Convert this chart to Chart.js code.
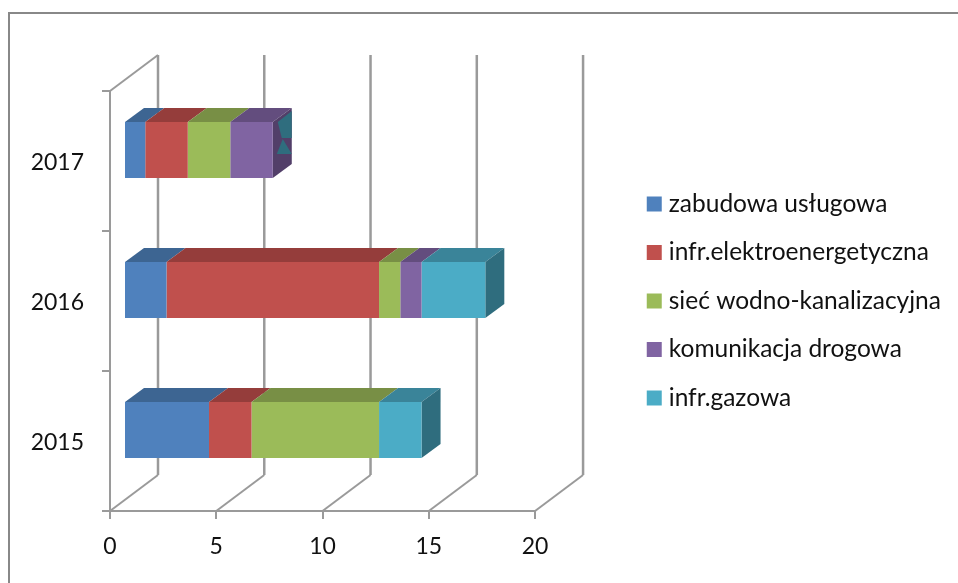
<!DOCTYPE html>
<html>
<head>
<meta charset="utf-8">
<title>Wykres</title>
<script src="https://cdn.jsdelivr.net/npm/chart.js@4/dist/chart.umd.min.js"></script>
<style>
  html, body { margin: 0; padding: 0; background: #fff; overflow: hidden; }
  #frame { position: absolute; left: 8px; top: 12px; border-left: 2px solid #888; border-top: 2px solid #888; }
  canvas { display: block; }
</style>
</head>
<body>
<div id="frame"><canvas id="chart" width="948" height="569"></canvas></div>
<script>
const years = ["2015", "2016", "2017"];
const seriesNames = ["zabudowa usługowa", "infr.elektroenergetyczna", "sieć wodno-kanalizacyjna", "komunikacja drogowa", "infr.gazowa"];
const zabudowa = [4, 2, 1];
const elektro = [2, 10, 2];
const wodKan = [6, 1, 2];
const drogowa = [0, 1, 2];
const gazowa = [2, 3, 0];
const xTicks = [0, 5, 10, 15, 20];

const frontColors = ["#4f81bd", "#c0504d", "#9bbb59", "#8064a2", "#4bacc6"];
const topColors = ["#3d6592", "#953d3b", "#788f45", "#634d7e", "#3a8499"];
const sideColors = ["#34547a", "#7c3331", "#64773a", "#523f69", "#2f6d7e"];
const lineColor = "#9a9a9a";
const textColor = "#111";

// depth of the walls and of the bars, in px
const wall = { dx: 48, dy: -36 };
const barFront = { dx: 14, dy: -11 };
const barDepth = { dx: 19, dy: -14 };
const legendLeft = 618;

function poly(ctx, color, pts) {
  ctx.fillStyle = color;
  ctx.beginPath();
  pts.forEach((p, i) => (i ? ctx.lineTo(p[0], p[1]) : ctx.moveTo(p[0], p[1])));
  ctx.closePath();
  ctx.fill();
}

const fake3d = {
  id: "fake3d",
  afterLayout(chart) {
    // keep the plot where it is, the legend sits further right
    chart.legend.right = legendLeft + chart.legend.width;
    chart.legend.left = legendLeft;
  },
  beforeDatasetsDraw(chart) {
    const ctx = chart.ctx;
    const { top, bottom } = chart.chartArea;
    const x = chart.scales.x;

    ctx.save();
    ctx.strokeStyle = lineColor;
    xTicks.forEach((t) => {
      const px = x.getPixelForValue(t);
      ctx.lineWidth = 2.5;
      ctx.beginPath();
      ctx.moveTo(px + wall.dx, top + wall.dy);
      ctx.lineTo(px + wall.dx, bottom + wall.dy);
      ctx.stroke();
      ctx.lineWidth = 2;
      ctx.beginPath();
      ctx.moveTo(px, bottom);
      ctx.lineTo(px + wall.dx, bottom + wall.dy);
      ctx.stroke();
    });
    const zero = x.getPixelForValue(0);
    ctx.beginPath();
    ctx.moveTo(zero, top);
    ctx.lineTo(zero + wall.dx, top + wall.dy);
    ctx.stroke();

    // top and side faces of the bars, from the library's own bar elements
    ctx.translate(barFront.dx, barFront.dy);
    const { dx, dy } = barDepth;
    const sets = chart.data.datasets;
    years.forEach((_, i) => {
      let last = -1;
      sets.forEach((ds, s) => {
        const el = chart.getDatasetMeta(s).data[i];
        if (ds.data[i] <= 0) return;
        last = s;
        const y0 = el.y - el.height / 2;
        poly(ctx, topColors[s], [[el.base, y0], [el.x, y0], [el.x + dx, y0 + dy], [el.base + dx, y0 + dy]]);
      });
      const el = chart.getDatasetMeta(last).data[i];
      const y0 = el.y - el.height / 2;
      const y1 = el.y + el.height / 2;
      poly(ctx, sideColors[last], [[el.x, y0], [el.x + dx, y0 + dy], [el.x + dx, y1 + dy], [el.x, y1]]);
      // a zero gas value shows through the side of the bar in the original
      if (last < sets.length - 1) {
        const gas = sideColors[sets.length - 1];
        poly(ctx, gas, [[el.x + 5, y0], [el.x + dx, y0 - 11], [el.x + dx, y0 + 16], [el.x + 9, y0 + 16]]);
        poly(ctx, gas, [[el.x + 10, y0 + 17], [el.x + 4, y0 + 32], [el.x + dx, y0 + 32]]);
      }
    });
    ctx.restore();

    // front faces get drawn by the library, shifted into the middle of the depth
    ctx.save();
    ctx.translate(barFront.dx, barFront.dy);
  },
  afterDatasetsDraw(chart) {
    chart.ctx.restore();
  }
};

new Chart(document.getElementById("chart").getContext("2d"), {
  type: "bar",
  plugins: [fake3d],
  data: {
    labels: years,
    datasets: [zabudowa, elektro, wodKan, drogowa, gazowa].map((values, i) => ({
      label: seriesNames[i],
      data: values,
      backgroundColor: frontColors[i],
      borderWidth: 0,
      barPercentage: 1,
      categoryPercentage: 0.4
    }))
  },
  options: {
    indexAxis: "y",
    responsive: false,
    animation: false,
    layout: { padding: { top: 77, right: 100, bottom: 0, left: 0 } },
    scales: {
      x: {
        stacked: true,
        min: 0,
        max: 20,
        afterFit(scale) { scale.height = 72; },
        afterBuildTicks(scale) { scale.ticks = xTicks.map((v) => ({ value: v })); },
        border: { color: lineColor, width: 2 },
        grid: { color: lineColor, lineWidth: 2, drawOnChartArea: false, tickLength: 8 },
        ticks: { color: textColor, font: { family: "Lato", size: 23 }, padding: 14, maxRotation: 0 }
      },
      y: {
        stacked: true,
        reverse: true,
        afterFit(scale) { scale.width = 100; },
        border: { color: lineColor, width: 2 },
        grid: { color: lineColor, lineWidth: 2, drawOnChartArea: false, tickLength: 8, offset: true },
        ticks: { color: textColor, font: { family: "Lato", size: 23 }, padding: 18, labelOffset: 1.5 }
      }
    },
    plugins: {
      title: { display: false },
      tooltip: { enabled: false },
      legend: {
        position: "right",
        fullSize: false,
        maxWidth: 420,
        labels: {
          color: textColor,
          font: { family: "Lato", size: 24.5 },
          usePointStyle: true,
          pointStyle: "rect",
          boxWidth: 4.5,
          boxHeight: 15,
          padding: 24
        }
      }
    }
  }
});
</script>
</body>
</html>
